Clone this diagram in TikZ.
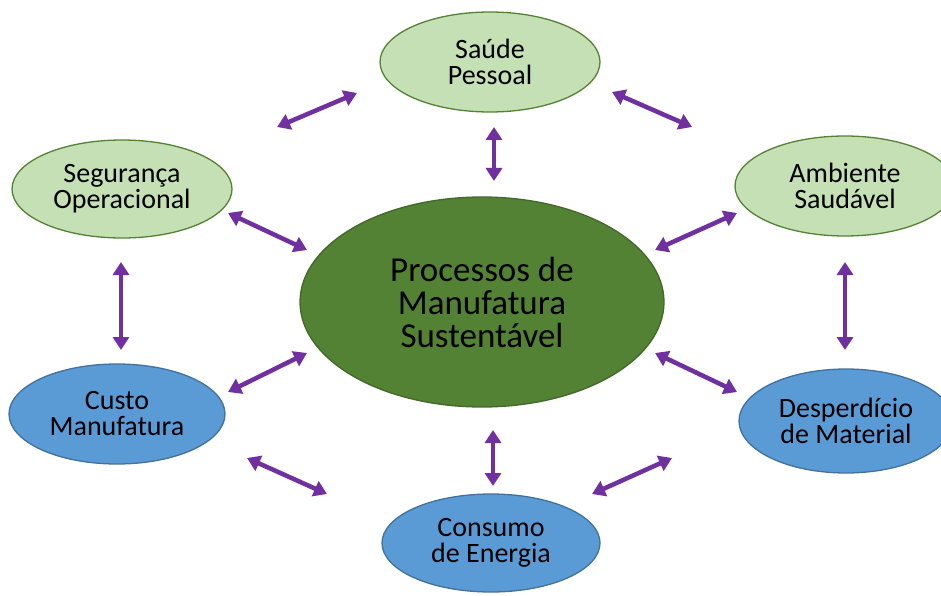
\documentclass[tikz,border=0pt]{standalone}
\usepackage{fontspec}
\setmainfont{Carlito}
\usepackage{xcolor}
\usetikzlibrary{arrows.meta,shapes.geometric}

\definecolor{leafgreen}{HTML}{C5E0B4}
\definecolor{darkgreen}{HTML}{548235}
\definecolor{skyblue}{HTML}{5B9BD5}
\definecolor{edgeblue}{HTML}{41719C}
\definecolor{arrowpurple}{HTML}{7030A0}

\begin{document}
\begin{tikzpicture}[x=1pt, y=-1pt,
  pillar/.style={ellipse, draw=darkgreen, line width=1.3pt, inner sep=0pt,
    minimum width=220pt, minimum height=100pt, align=center,
    font=\fontsize{28}{26}\selectfont},
  goodbox/.style={pillar, fill=leafgreen},
  costbox/.style={pillar, fill=skyblue, draw=edgeblue},
  link/.style={arrowpurple, line width=4.5pt,
    {Triangle[length=13pt,width=16pt]}-{Triangle[length=13pt,width=16pt]}}]
\useasboundingbox (0,0) rectangle (941,596);

% Core process
\node[ellipse, fill=darkgreen, draw=darkgreen!80!black, line width=1.3pt,
  minimum width=364pt, minimum height=210pt, inner sep=0pt, align=center,
  font=\fontsize{35}{33}\selectfont] (core) at (482,302)
  {Processos de\\Manufatura\\Sustentável};

% Surrounding aspects
\node[goodbox] (saude) at (490,62) {Saúde\\Pessoal};
\node[goodbox, minimum height=98pt] (seguranca) at (122,189) {Segurança\\Operacional};
\node[goodbox] (ambiente) at (845,186) {Ambiente\\Saudável};
\node[costbox, minimum width=216pt] (custo) at (117,414) {Custo\\Manufatura};
\node[costbox, minimum width=214pt, minimum height=104pt] (desperdicio) at (846,421) {Desperdício\\de Material};
\node[costbox, minimum width=218pt, minimum height=98pt] (consumo) at (491,543) {Consumo\\de Energia};

% Arrow ends
\coordinate (tl1) at (277,127);  \coordinate (tl2) at (357,93);
\coordinate (tr1) at (612,92);   \coordinate (tr2) at (692,127);
\coordinate (tc1) at (494,127);  \coordinate (tc2) at (494,181);
\coordinate (ml1) at (228,213);  \coordinate (ml2) at (307,250);
\coordinate (mr1) at (655,250);  \coordinate (mr2) at (737,213);
\coordinate (vl1) at (121,262);  \coordinate (vl2) at (121,350);
\coordinate (vr1) at (845,262);  \coordinate (vr2) at (845,350);
\coordinate (ll1) at (228,392);  \coordinate (ll2) at (307,353);
\coordinate (lr1) at (655,353);  \coordinate (lr2) at (737,392);
\coordinate (bc1) at (493,430);  \coordinate (bc2) at (493,486);
\coordinate (bl1) at (247,458);  \coordinate (bl2) at (327,494);
\coordinate (br1) at (592,494);  \coordinate (br2) at (672,458);

% Double arrows
\foreach \a in {tl,tr,tc,ml,mr,vl,vr,ll,lr,bc,bl,br}
  \draw[link] (\a1) -- (\a2);

\end{tikzpicture}
\end{document}
